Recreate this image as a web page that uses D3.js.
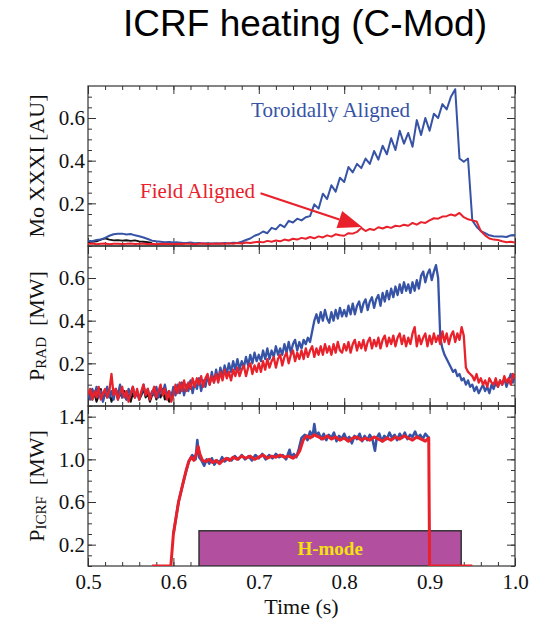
<!DOCTYPE html>
<html>
<head>
<meta charset="utf-8">
<script src="https://cdn.jsdelivr.net/npm/d3@7"></script>
<style>
body { margin: 0; background: #fff; }
svg { display: block; }
</style>
</head>
<body>
<div id="chart"></div>
<script>
// ---- data ----
// Mo XXXI brightness, sampled every 5 ms from t = 0.5 s
var moStart = 0.5, moStep = 0.005;
var moToroidal = [0.025,0.022,0.028,0.030,0.038,0.048,0.055,0.057,0.058,0.054,0.056,0.050,0.046,0.040,0.033,0.025,
  0.022,0.020,0.018,0.019,0.016,0.017,0.015,0.014,0.016,0.013,0.014,0.012,0.013,0.012,0.013,0.012,0.014,0.012,0.015,0.014,
  0.020,0.028,0.035,0.048,0.055,0.068,0.060,0.085,0.078,0.100,0.088,0.118,0.110,0.128,0.120,0.135,0.140,
  0.195,0.175,0.245,0.220,0.285,0.255,0.320,0.300,0.370,0.345,0.385,0.365,0.410,0.385,0.445,0.405,0.470,0.430,
  0.505,0.450,0.540,0.480,0.530,0.465,0.590,0.520,0.600,0.540,0.620,0.600,0.665,0.640,0.700,0.735,
  0.410,0.395,0.410,0.120,0.090,0.070,0.060,0.050,0.046,0.045,0.044,0.042,0.050,0.052];
var moField = [0.010,0.012,0.008,0.010,0.012,0.008,0.010,0.011,0.009,0.010,0.012,0.009,0.010,0.011,0.009,0.010,
  0.008,0.010,0.009,0.011,0.008,0.010,0.009,0.011,0.010,0.008,0.010,0.012,0.009,0.011,0.010,0.012,0.010,0.013,0.011,0.014,
  0.012,0.016,0.014,0.018,0.020,0.017,0.024,0.020,0.026,0.022,0.030,0.026,0.034,0.030,0.038,0.034,0.042,
  0.036,0.045,0.040,0.050,0.044,0.055,0.050,0.048,0.060,0.058,0.066,0.085,0.070,0.080,0.075,0.088,0.082,
  0.090,0.085,0.095,0.092,0.100,0.095,0.108,0.100,0.112,0.108,0.120,0.130,0.128,0.138,0.140,0.148,0.142,
  0.155,0.135,0.125,0.120,0.115,0.070,0.050,0.035,0.030,0.028,0.022,0.018,0.020,0.016];
var moReference = [0.018,0.020,0.022,0.030,0.036,0.030,0.026,0.028,0.025,0.027,0.024,0.026,0.022,0.020,0.018,0.015];

// radiated power [MW], sampled every 2.5 ms from t = 0.5 s
var radStart = 0.5, radStep = 0.0025;
var pradToroidal = [
  0.06,0.03,0.08,0.05,0.09,0.04,0.07,0.02,0.06,0.09, 0.04,0.07,0.03,0.08,0.05,0.10,0.04,0.06,0.03,0.08,
  0.05,0.09,0.04,0.07,0.03,0.06,0.10,0.05,0.08,0.04, 0.07,0.05,0.09,0.04,0.08,0.06,0.10,0.05,0.07,0.04,
  0.09,0.05,0.10,0.06,0.11,0.05,0.10,0.07,0.12,0.06, 0.11,0.08,0.13,0.07,0.12,0.09,0.14,0.10,0.16,0.11,
  0.17,0.12,0.18,0.14,0.19,0.15,0.20,0.16,0.21,0.17, 0.22,0.17,0.21,0.18,0.23,0.19,0.24,0.20,0.25,0.21,
  0.24,0.21,0.26,0.22,0.27,0.22,0.26,0.23,0.28,0.24, 0.27,0.24,0.29,0.25,0.30,0.25,0.29,0.31,0.26,0.30,
  0.27,0.31,0.29,0.32,0.30,0.35,0.40,0.43,0.39,0.44, 0.40,0.45,0.41,0.39,0.44,0.40,0.45,0.41,0.46,0.42,
  0.45,0.42,0.47,0.43,0.48,0.43,0.47,0.49,0.44,0.48, 0.50,0.45,0.49,0.51,0.46,0.50,0.52,0.47,0.53,0.49,
  0.54,0.50,0.55,0.51,0.56,0.52,0.57,0.53,0.58,0.54, 0.57,0.53,0.58,0.54,0.59,0.55,0.61,0.63,0.58,0.62,
  0.64,0.59,0.63,0.66,0.60,0.32,0.27,0.24,0.22,0.20, 0.18,0.16,0.17,0.14,0.15,0.12,0.13,0.10,0.12,0.09,
  0.10,0.07,0.09,0.06,0.08,0.10,0.07,0.09,0.06,0.10, 0.08,0.11,0.09,0.12,0.10,0.13,0.09,0.12,0.15,0.11,
  0.14];
var pradField = [
  0.05,0.08,0.03,0.07,0.04,0.09,0.03,0.06,0.08,0.04, 0.07,0.15,0.05,0.08,0.03,0.06,0.09,0.04,0.07,0.02,
  0.06,0.09,0.04,0.08,0.03,0.07,0.10,0.05,0.08,0.03, 0.06,0.09,0.04,0.07,0.10,0.05,0.08,0.03,0.07,0.02,
  0.05,0.10,0.06,0.11,0.07,0.12,0.07,0.11,0.08,0.13, 0.09,0.13,0.10,0.14,0.09,0.13,0.15,0.10,0.14,0.11,
  0.15,0.11,0.16,0.12,0.17,0.13,0.16,0.12,0.17,0.14, 0.18,0.14,0.17,0.19,0.14,0.18,0.20,0.15,0.19,0.16,
  0.20,0.16,0.21,0.17,0.22,0.18,0.21,0.23,0.18,0.22, 0.24,0.19,0.23,0.25,0.20,0.24,0.26,0.21,0.25,0.22,
  0.26,0.22,0.27,0.23,0.26,0.28,0.23,0.27,0.24,0.28, 0.24,0.29,0.25,0.28,0.24,0.29,0.25,0.30,0.26,0.25,
  0.29,0.26,0.30,0.25,0.29,0.31,0.26,0.30,0.27,0.31, 0.26,0.30,0.32,0.27,0.31,0.28,0.32,0.27,0.31,0.33,
  0.28,0.32,0.29,0.33,0.28,0.32,0.34,0.29,0.33,0.28, 0.32,0.29,0.34,0.37,0.28,0.33,0.29,0.32,0.34,0.28,
  0.33,0.29,0.34,0.30,0.33,0.29,0.35,0.30,0.34,0.29, 0.33,0.35,0.30,0.34,0.31,0.37,0.33,0.18,0.16,0.15,
  0.14,0.12,0.15,0.11,0.13,0.10,0.12,0.09,0.13,0.11, 0.10,0.13,0.09,0.12,0.10,0.14,0.11,0.13,0.10,0.15,
  0.13];
var pradReference = [
  0.04,0.07,0.03,0.06,0.02,0.05,0.08,0.03,0.06,0.04, 0.07,0.02,0.05,0.08,0.03,0.06,0.04,0.07,0.03,0.05,
  0.02,0.06,0.04,0.07,0.03,0.05,0.08,0.04,0.06,0.02, 0.05,0.07,0.03,0.06,0.04,0.08,0.03,0.05,0.02,0.06,
  0.04];

// ICRF power [MW] as [time, value] pairs
var icrfToroidal = [[0.600,0.30],[0.606,0.60],[0.612,0.80],[0.618,0.98],[0.622,1.04],[0.626,1.00],[0.628,1.18],[0.630,1.02],
  [0.633,0.99],[0.636,0.94],[0.639,1.00],[0.642,0.96],[0.645,1.01],[0.648,0.95],[0.651,0.99],[0.654,0.97],[0.657,1.02],
  [0.660,0.98],[0.664,1.01],[0.668,0.99],[0.672,1.03],[0.676,1.00],[0.680,1.04],[0.684,1.00],[0.688,1.03],[0.692,0.99],
  [0.696,1.04],[0.700,1.01],[0.704,1.05],[0.708,1.00],[0.712,1.04],[0.716,1.01],[0.720,1.05],[0.724,1.02],[0.728,1.04],
  [0.732,1.00],[0.736,1.09],[0.738,1.02],[0.741,1.05],[0.744,1.02],[0.747,1.10],[0.750,1.20],[0.754,1.23],[0.757,1.18],
  [0.760,1.26],[0.763,1.21],[0.765,1.33],[0.767,1.22],[0.770,1.25],[0.773,1.19],[0.776,1.24],[0.779,1.18],[0.782,1.23],
  [0.785,1.20],[0.788,1.25],[0.791,1.17],[0.794,1.22],[0.797,1.19],[0.800,1.24],[0.803,1.18],[0.806,1.21],[0.809,1.15],
  [0.812,1.22],[0.815,1.19],[0.818,1.24],[0.821,1.17],[0.824,1.22],[0.827,1.18],[0.830,1.23],[0.833,1.19],[0.836,1.08],
  [0.838,1.20],[0.841,1.24],[0.844,1.17],[0.847,1.22],[0.850,1.19],[0.853,1.25],[0.856,1.20],[0.859,1.23],[0.862,1.18],
  [0.865,1.24],[0.868,1.20],[0.871,1.25],[0.874,1.19],[0.877,1.23],[0.880,1.21],[0.883,1.26],[0.886,1.20],[0.889,1.23],
  [0.892,1.19],[0.895,1.24],[0.898,1.21],[0.900,1.20]];
var icrfField = [[0.575,0],[0.597,0],[0.600,0.30],[0.603,0.45],[0.606,0.60],[0.609,0.70],[0.612,0.80],[0.615,0.90],
  [0.618,0.98],[0.621,1.02],[0.624,0.99],[0.627,1.06],[0.629,1.12],[0.631,1.05],[0.634,0.99],[0.638,0.98],[0.642,1.00],
  [0.646,0.97],[0.650,0.99],[0.654,0.96],[0.658,0.99],[0.662,1.01],[0.666,0.99],[0.670,1.02],[0.675,1.00],[0.680,1.03],
  [0.685,1.01],[0.690,1.03],[0.695,1.00],[0.700,1.02],[0.705,1.04],[0.710,1.01],[0.715,1.03],[0.720,1.02],[0.725,1.04],
  [0.730,1.02],[0.735,1.03],[0.740,1.01],[0.745,1.04],[0.748,1.08],[0.752,1.18],[0.756,1.22],[0.760,1.20],[0.765,1.23],
  [0.770,1.21],[0.775,1.19],[0.780,1.22],[0.785,1.19],[0.790,1.21],[0.795,1.18],[0.800,1.20],[0.805,1.17],[0.810,1.20],
  [0.815,1.21],[0.820,1.18],[0.825,1.20],[0.830,1.18],[0.835,1.21],[0.840,1.19],[0.845,1.17],[0.850,1.20],[0.855,1.18],
  [0.860,1.21],[0.865,1.19],[0.870,1.22],[0.875,1.20],[0.880,1.18],[0.885,1.21],[0.890,1.19],[0.895,1.17],[0.899,1.20],
  [0.900,0],[0.950,0]];

// H-mode window [s] and box height [MW]
var hmode = [0.630, 0.937], hmodeTop = 0.33;

var xTicks = [0.5, 0.6, 0.7, 0.8, 0.9, 1.0];
var moTicks = [0.2, 0.4, 0.6];
var pradTicks = [0.2, 0.4, 0.6];
var icrfTicks = [0.2, 0.6, 1.0, 1.4];

var blue = "#3653a5", red = "#e8212b";
var serif = "'Liberation Serif', 'Times New Roman', serif";

// ---- layout ----
var W = 546, H = 624;
var left = 88, right = 515, panelH = 160, tops = [86, 246, 406];
var width = right - left;

var svg = d3.select("#chart").append("svg").attr("width", W).attr("height", H);

svg.append("text").attr("x", 305).attr("y", 36).attr("text-anchor", "middle")
  .style("font-family", "'Liberation Sans', Arial, sans-serif").style("font-size", "37px")
  .text("ICRF heating (C-Mod)");

var x = d3.scaleLinear().domain([0.5, 1.0]).range([0, width]);
var fmt = d3.format(".1f");

function series(values, start, step) {
  return values.map(function(v, i) { return [start + i * step, v]; });
}

function makePanel(i, yDomain, major, minorStep, name) {
  var g = svg.append("g").attr("transform", "translate(" + left + "," + tops[i] + ")");
  var y = d3.scaleLinear().domain(yDomain).range([panelH, 0]);
  var minor = d3.range(Math.ceil(yDomain[0] / minorStep) * minorStep, yDomain[1], minorStep);
  var xMinor = d3.range(0.5, 1.0001, 0.02);

  g.append("clipPath").attr("id", "clip" + i).append("rect")
    .attr("width", width).attr("height", panelH);

  var axes = g.append("g").attr("class", "axes");
  axes.append("g").call(d3.axisLeft(y).tickValues(minor).tickSize(-4).tickFormat(""));
  axes.append("g").call(d3.axisLeft(y).tickValues(major).tickSizeInner(-8).tickSizeOuter(0)
    .tickPadding(3).tickFormat(fmt));
  axes.append("g").attr("transform", "translate(" + width + ",0)")
    .call(d3.axisRight(y).tickValues(minor).tickSize(-4).tickFormat(""));
  axes.append("g").attr("transform", "translate(" + width + ",0)")
    .call(d3.axisRight(y).tickValues(major).tickSize(-8).tickFormat(""));
  axes.append("g").call(d3.axisTop(x).tickValues(xMinor).tickSize(-4).tickFormat(""));
  axes.append("g").call(d3.axisTop(x).tickValues(xTicks).tickSize(-8).tickFormat(""));
  axes.append("g").attr("transform", "translate(0," + panelH + ")")
    .call(d3.axisBottom(x).tickValues(xMinor).tickSize(-4).tickFormat(""));
  axes.append("g").attr("transform", "translate(0," + panelH + ")")
    .call(d3.axisBottom(x).tickValues(xTicks).tickSizeInner(-8).tickSizeOuter(0).tickPadding(8)
      .tickFormat(i === 2 ? fmt : ""));
  axes.selectAll(".domain").remove();
  axes.selectAll(".tick line").attr("stroke", "#333");
  axes.selectAll("text").style("font-family", serif)
    .style("font-size", "21px").attr("fill", "#111");

  g.append("rect").attr("width", width).attr("height", panelH)
    .attr("fill", "none").attr("stroke", "#333").attr("stroke-width", 1.2);

  // rotated y title
  var t = svg.append("text")
    .attr("transform", "translate(44," + (tops[i] + panelH / 2) + ") rotate(-90)")
    .attr("text-anchor", "middle")
    .style("font-family", serif)
    .style("font-size", "22px").attr("fill", "#111");
  if (name.sub) {
    t.append("tspan").text(name.main);
    t.append("tspan").style("font-size", "15px").attr("dy", 2).text(name.sub);
    t.append("tspan").attr("dy", -2).text("\u00a0 " + name.unit);
  } else {
    t.text(name.main);
  }

  var plot = g.append("g").attr("clip-path", "url(#clip" + i + ")");
  return { g: g, plot: plot, y: y };
}

function drawLine(p, data, color, w) {
  var line = d3.line().x(function(d) { return x(d[0]); }).y(function(d) { return p.y(d[1]); });
  p.plot.append("path").datum(data).attr("d", line)
    .attr("fill", "none").attr("stroke", color).attr("stroke-width", w)
    .attr("stroke-linejoin", "round");
}

// ---- panel 1: Mo XXXI ----
var p1 = makePanel(0, [0, 0.75], moTicks, 0.05, { main: "Mo XXXI [AU]" });
drawLine(p1, series(moReference, moStart, moStep), "#111", 1.8);
drawLine(p1, series(moToroidal, moStart, moStep), blue, 2);
drawLine(p1, series(moField, moStart, moStep), red, 2);

p1.g.append("text").attr("x", x(0.691)).attr("y", p1.y(0.606))
  .style("font-family", serif).style("font-size", "21px").attr("fill", blue)
  .text("Toroidally Aligned");
p1.g.append("text").attr("x", x(0.561)).attr("y", p1.y(0.224))
  .style("font-family", serif).style("font-size", "21px").attr("fill", red)
  .text("Field Aligned");

// arrow from label to the red trace
var a0 = [x(0.702), p1.y(0.247)], a1 = [x(0.821), p1.y(0.089)];
var ang = Math.atan2(a1[1] - a0[1], a1[0] - a0[0]);
var headL = 24, headW = 9;
var base = [a1[0] - headL * Math.cos(ang), a1[1] - headL * Math.sin(ang)];
p1.g.append("line").attr("x1", a0[0]).attr("y1", a0[1]).attr("x2", base[0]).attr("y2", base[1])
  .attr("stroke", red).attr("stroke-width", 2.2);
p1.g.append("path")
  .attr("d", "M" + a1[0] + "," + a1[1] +
    "L" + (base[0] + headW * Math.sin(ang)) + "," + (base[1] - headW * Math.cos(ang)) +
    "L" + (base[0] - headW * Math.sin(ang)) + "," + (base[1] + headW * Math.cos(ang)) + "Z")
  .attr("fill", red);

// ---- panel 2: P_RAD ----
var p2 = makePanel(1, [0, 0.75], pradTicks, 0.05, { main: "P", sub: "RAD", unit: "[MW]" });
drawLine(p2, series(pradReference, radStart, radStep), "#111", 2);
drawLine(p2, series(pradToroidal, radStart, radStep), blue, 2.3);
drawLine(p2, series(pradField, radStart, radStep), red, 2.3);

// ---- panel 3: P_ICRF ----
var p3 = makePanel(2, [0, 1.5], icrfTicks, 0.1, { main: "P", sub: "ICRF", unit: "[MW]" });
p3.plot.append("rect")
  .attr("x", x(hmode[0])).attr("y", p3.y(hmodeTop))
  .attr("width", x(hmode[1]) - x(hmode[0])).attr("height", p3.y(0) - p3.y(hmodeTop))
  .attr("fill", "#b24f9f").attr("stroke", "#333").attr("stroke-width", 1.5);
drawLine(p3, icrfToroidal, blue, 2.6);
drawLine(p3, icrfField, red, 3);
p3.g.append("text").attr("x", x((hmode[0] + hmode[1]) / 2)).attr("y", p3.y(hmodeTop / 2))
  .attr("dy", "0.35em").attr("text-anchor", "middle")
  .style("font-family", serif).style("font-size", "19px").style("font-weight", "bold")
  .attr("fill", "#f4e20e").text("H-mode");

svg.append("text").attr("x", left + width / 2).attr("y", 614).attr("text-anchor", "middle")
  .style("font-family", serif).style("font-size", "22px").attr("fill", "#111")
  .text("Time (s)");
</script>
</body>
</html>
